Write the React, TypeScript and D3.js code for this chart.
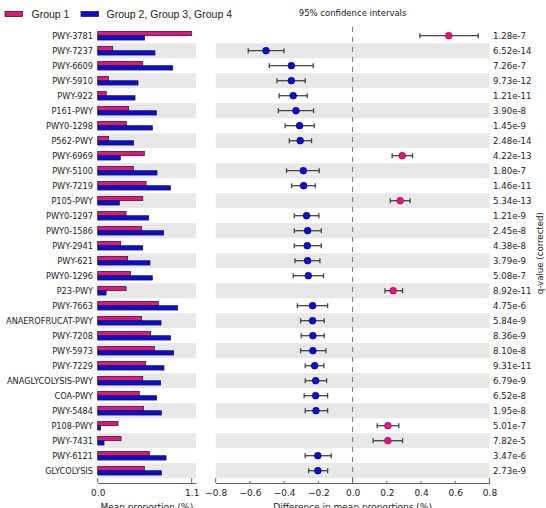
import { useEffect, useRef } from "react";
import * as d3 from "d3";

const WIDTH = 546;
const HEIGHT = 508;

const pathways = [
  "PWY-3781", "PWY-7237", "PWY-6609", "PWY-5910", "PWY-922", "P161-PWY",
  "PWY0-1298", "P562-PWY", "PWY-6969", "PWY-5100", "PWY-7219", "P105-PWY",
  "PWY0-1297", "PWY0-1586", "PWY-2941", "PWY-621", "PWY0-1296", "P23-PWY",
  "PWY-7663", "ANAEROFRUCAT-PWY", "PWY-7208", "PWY-5973", "PWY-7229",
  "ANAGLYCOLYSIS-PWY", "COA-PWY", "PWY-5484", "P108-PWY", "PWY-7431",
  "PWY-6121", "GLYCOLYSIS",
];

// mean proportion (%) per group
const group1Mean = [
  1.1, 0.176, 0.527, 0.125, 0.1, 0.363, 0.335, 0.129, 0.546, 0.417, 0.566,
  0.527, 0.332, 0.515, 0.269, 0.351, 0.382, 0.332, 0.71, 0.515, 0.62, 0.663,
  0.562, 0.527, 0.488, 0.538, 0.238, 0.273, 0.605, 0.546,
];
const group234Mean = [
  0.55, 0.67, 0.878, 0.472, 0.437, 0.687, 0.64, 0.421, 0.265, 0.694, 0.85,
  0.254, 0.597, 0.772, 0.527, 0.612, 0.64, 0.098, 0.936, 0.741, 0.85, 0.889,
  0.776, 0.737, 0.69, 0.745, 0.035, 0.074, 0.8, 0.745,
];

// difference in mean proportions with 95% CI
const diffMean = [
  0.562, -0.506, -0.358, -0.358, -0.347, -0.331, -0.31, -0.306, 0.29, -0.288,
  -0.286, 0.278, -0.269, -0.263, -0.265, -0.263, -0.259, 0.237, -0.234,
  -0.234, -0.232, -0.232, -0.222, -0.216, -0.216, -0.214, 0.206, 0.206,
  -0.203, -0.203,
];
const ciLow = [
  0.393, -0.61, -0.487, -0.442, -0.429, -0.434, -0.394, -0.37, 0.231, -0.386,
  -0.356, 0.22, -0.341, -0.341, -0.341, -0.337, -0.347, 0.189, -0.323,
  -0.304, -0.3, -0.304, -0.277, -0.277, -0.283, -0.277, 0.144, 0.12, -0.277,
  -0.257,
];
const ciHigh = [
  0.734, -0.401, -0.23, -0.277, -0.265, -0.228, -0.224, -0.24, 0.35, -0.195,
  -0.218, 0.336, -0.197, -0.183, -0.183, -0.191, -0.17, 0.292, -0.146,
  -0.166, -0.166, -0.156, -0.168, -0.152, -0.146, -0.146, 0.27, 0.292,
  -0.125, -0.146,
];

const qValues = [
  "1.28e-7", "6.52e-14", "7.26e-7", "9.73e-12", "1.21e-11", "3.90e-8",
  "1.45e-9", "2.48e-14", "4.22e-13", "1.80e-7", "1.46e-11", "5.34e-13",
  "1.21e-9", "2.45e-8", "4.38e-8", "3.79e-9", "5.08e-7", "8.92e-11",
  "4.75e-6", "5.84e-9", "8.36e-9", "8.10e-8", "9.31e-11", "6.79e-9",
  "6.52e-8", "1.95e-8", "5.01e-7", "7.82e-5", "3.47e-6", "2.73e-9",
];

const barTicks = [0, 1.1];
const diffTicks = [-0.8, -0.6, -0.4, -0.2, 0, 0.2, 0.4, 0.6, 0.8];

const PINK = "#e4167b";
const BLUE = "#0c0cd2";
const TICK_FONT = "DejaVu Sans, sans-serif";

export default function App() {
  const svgRef = useRef<SVGSVGElement | null>(null);

  useEffect(() => {
    document.body.style.margin = "0";
    if (!svgRef.current) return;
    const svg = d3.select(svgRef.current);
    svg.selectAll("*").remove();

    const rowTop = 28.2;
    const rowBottom = 478.2;
    const axisY = 483;

    const y = d3.scaleBand<string>().domain(pathways).range([rowTop, rowBottom]);
    const xBar = d3.scaleLinear().domain([0, 1.15]).range([97.7, 196]);
    const xDiff = d3.scaleLinear().domain([-0.8, 0.8]).range([215.7, 489.5]);
    const rows = pathways.map((p, i) => ({ p, i }));

    // alternating row shading in both panels
    const bands = svg.append("g");
    rows
      .filter((r) => r.i % 2 === 1)
      .forEach((r) => {
        bands
          .append("rect")
          .attr("x", xBar(0))
          .attr("y", y(r.p)!)
          .attr("width", xBar.range()[1] - xBar(0))
          .attr("height", y.bandwidth())
          .attr("fill", "#e8e8e8");
        bands
          .append("rect")
          .attr("x", xDiff(-0.8))
          .attr("y", y(r.p)!)
          .attr("width", xDiff(0.8) - xDiff(-0.8))
          .attr("height", y.bandwidth())
          .attr("fill", "#e8e8e8");
      });

    // row labels
    svg
      .append("g")
      .selectAll("text")
      .data(rows)
      .join("text")
      .attr("x", 93)
      .attr("y", (d) => y(d.p)! + y.bandwidth() / 2)
      .attr("dy", "0.35em")
      .attr("text-anchor", "end")
      .attr("font-family", TICK_FONT)
      .attr("font-size", 8.2)
      .attr("fill", "#222")
      .text((d) => d.p);

    // mean proportion bars
    const barH = y.bandwidth() * 0.29;
    const bars = svg.append("g").attr("stroke", "#1a1a3a").attr("stroke-width", 0.7);
    bars
      .selectAll("rect.g1")
      .data(rows)
      .join("rect")
      .attr("class", "g1")
      .attr("x", xBar(0))
      .attr("y", (d) => y(d.p)! + y.bandwidth() / 2 - barH)
      .attr("width", (d) => xBar(group1Mean[d.i]) - xBar(0))
      .attr("height", barH)
      .attr("fill", PINK);
    bars
      .selectAll("rect.g2")
      .data(rows)
      .join("rect")
      .attr("class", "g2")
      .attr("x", xBar(0))
      .attr("y", (d) => y(d.p)! + y.bandwidth() / 2)
      .attr("width", (d) => xBar(group234Mean[d.i]) - xBar(0))
      .attr("height", barH)
      .attr("fill", BLUE);

    // zero reference line
    svg
      .append("line")
      .attr("x1", xDiff(0))
      .attr("x2", xDiff(0))
      .attr("y1", 27)
      .attr("y2", axisY)
      .attr("stroke", "#777")
      .attr("stroke-width", 1)
      .attr("stroke-dasharray", "5,5");

    // confidence intervals
    const ci = svg.append("g").attr("stroke", "#444").attr("stroke-width", 1.3);
    rows.forEach((r) => {
      const cy = y(r.p)! + y.bandwidth() / 2;
      const x0 = xDiff(ciLow[r.i]);
      const x1 = xDiff(ciHigh[r.i]);
      ci.append("line").attr("x1", x0).attr("x2", x1).attr("y1", cy).attr("y2", cy);
      ci.append("line").attr("x1", x0).attr("x2", x0).attr("y1", cy - 2.5).attr("y2", cy + 2.5);
      ci.append("line").attr("x1", x1).attr("x2", x1).attr("y1", cy - 2.5).attr("y2", cy + 2.5);
    });
    svg
      .append("g")
      .selectAll("circle")
      .data(rows)
      .join("circle")
      .attr("cx", (d) => xDiff(diffMean[d.i]))
      .attr("cy", (d) => y(d.p)! + y.bandwidth() / 2)
      .attr("r", 3.4)
      .attr("fill", (d) => (diffMean[d.i] > 0 ? PINK : BLUE))
      .attr("stroke", (d) => (diffMean[d.i] > 0 ? "#7a0a40" : "#00006a"))
      .attr("stroke-width", 0.6);

    // q-values
    svg
      .append("g")
      .selectAll("text")
      .data(rows)
      .join("text")
      .attr("x", 493)
      .attr("y", (d) => y(d.p)! + y.bandwidth() / 2)
      .attr("dy", "0.35em")
      .attr("font-family", TICK_FONT)
      .attr("font-size", 8.6)
      .attr("fill", "#222")
      .text((d) => qValues[d.i]);

    svg
      .append("text")
      .attr("transform", `translate(540,${(rowTop + rowBottom) / 2}) rotate(-90)`)
      .attr("text-anchor", "middle")
      .attr("dy", "0.35em")
      .attr("font-family", TICK_FONT)
      .attr("font-size", 8.6)
      .attr("fill", "#222")
      .text("q-value (corrected)");

    // bottom axes
    const fmt = (v: number) => (v < 0 ? "\u2212" : "") + Math.abs(v).toFixed(1);
    const axisBar = d3
      .axisBottom(xBar)
      .tickValues(barTicks)
      .tickSize(0)
      .tickPadding(7)
      .tickFormat((d) => fmt(Number(d)));
    const axisDiff = d3
      .axisBottom(xDiff)
      .tickValues(diffTicks)
      .tickSize(0)
      .tickPadding(7)
      .tickFormat((d) => fmt(Number(d)));

    [axisBar, axisDiff].forEach((ax, k) => {
      const g = svg.append("g").attr("transform", `translate(0,${axisY})`).call(ax);
      g.select(".domain").attr("stroke", "#666");
      g.selectAll("text")
        .attr("font-family", TICK_FONT)
        .attr("font-size", 9)
        .attr("fill", "#222");
      const ticks = k === 0 ? barTicks : diffTicks;
      const sc = k === 0 ? xBar : xDiff;
      ticks.forEach((t) => {
        const major = k === 0 || t === 0 || Math.abs(t) === 0.8;
        g.append("line")
          .attr("x1", sc(t))
          .attr("x2", sc(t))
          .attr("y1", 0)
          .attr("y2", major ? -5 : -2)
          .attr("stroke", "#666");
      });
    });

    svg
      .append("text")
      .attr("x", (xBar(0) + xBar(1.15)) / 2)
      .attr("y", 510)
      .attr("text-anchor", "middle")
      .attr("font-family", TICK_FONT)
      .attr("font-size", 9)
      .attr("fill", "#222")
      .text("Mean proportion (%)");
    svg
      .append("text")
      .attr("x", xDiff(0))
      .attr("y", 510)
      .attr("text-anchor", "middle")
      .attr("font-family", TICK_FONT)
      .attr("font-size", 9)
      .attr("fill", "#222")
      .text("Difference in mean proportions (%)");

    // legend
    const legend = svg.append("g").attr("font-family", "Liberation Sans, Arial, sans-serif").attr("font-size", 10.5).attr("fill", "#222");
    legend.append("rect").attr("x", 5).attr("y", 11.5).attr("width", 17.5).attr("height", 5).attr("fill", PINK).attr("stroke", "#222").attr("stroke-width", 0.8);
    legend.append("text").attr("x", 31.5).attr("y", 14).attr("dy", "0.35em").text("Group 1");
    legend.append("rect").attr("x", 81).attr("y", 11.5).attr("width", 17.5).attr("height", 5).attr("fill", BLUE).attr("stroke", "#222").attr("stroke-width", 0.8);
    legend.append("text").attr("x", 106.5).attr("y", 14).attr("dy", "0.35em").text("Group 2, Group 3, Group 4");

    svg
      .append("text")
      .attr("x", xDiff(0))
      .attr("y", 13.5)
      .attr("dy", "0.35em")
      .attr("text-anchor", "middle")
      .attr("font-family", TICK_FONT)
      .attr("font-size", 8.5)
      .attr("fill", "#222")
      .text("95% confidence intervals");
  }, []);

  return (
    <svg
      ref={svgRef}
      width={WIDTH}
      height={HEIGHT}
      style={{ display: "block", background: "#fff" }}
    />
  );
}
